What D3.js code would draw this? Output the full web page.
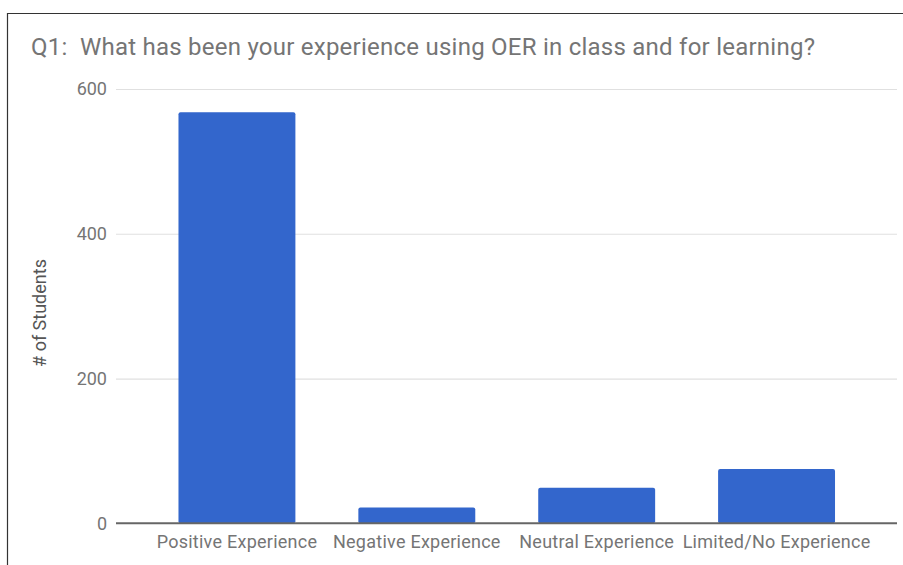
<!DOCTYPE html>
<html>
<head>
<meta charset="utf-8">
<script src="https://cdn.jsdelivr.net/npm/d3@7"></script>
<style>
  html, body { margin: 0; padding: 0; background: #fff; }
  svg { display: block; font-family: Roboto, "Noto Sans", sans-serif; }
</style>
</head>
<body>
<div class="chart"></div>
<script>
const categories = ['Positive Experience', 'Negative Experience', 'Neutral Experience', 'Limited/No Experience']
const students = [568, 22, 49, 75]
const yTicks = [0, 200, 400, 600]
const title = 'Q1:  What has been your experience using OER in class and for learning?'
const yLabel = '# of Students'

const width = 903
const height = 565

const svg = d3.select('.chart').append('svg')
  .attr('width', width)
  .attr('height', height)

// frame around the chart (right and bottom edges fall outside the crop)
svg.append('path')
  .attr('d', 'M7.5,' + height + 'V13.5H' + width)
  .attr('fill', 'none')
  .attr('stroke', '#333')
  .attr('stroke-width', 1.2)

svg.append('text')
  .attr('x', 31)
  .attr('y', 55)
  .attr('fill', '#757575')
  .attr('font-size', 24)
  .attr('textLength', 784)
  .style('white-space', 'pre')
  .text(title)

const y = d3.scaleLinear()
  .domain([0, 600])
  .range([523.3, 89])

const x = d3.scaleBand()
  .domain(categories)
  .range([147, 866.5])
  .paddingInner(0.35)
  .paddingOuter(0.175)

// gridlines + tick labels
const grid = svg.append('g')
  .attr('transform', 'translate(116,0)')
  .call(d3.axisLeft(y).tickValues(yTicks).tickSize(-781).tickPadding(9))
grid.select('.domain').remove()
grid.selectAll('.tick line')
  .attr('stroke', d => d === 0 ? 'none' : '#e0e0e0')
  .attr('stroke-width', 1.2)
grid.selectAll('.tick text')
  .attr('fill', '#757575')
  .attr('font-size', 18)
  .attr('font-family', 'Roboto, sans-serif')

svg.append('g')
  .selectAll('rect')
  .data(students)
  .join('rect')
    .attr('x', (d, i) => x(categories[i]))
    .attr('y', d => y(d))
    .attr('width', x.bandwidth())
    .attr('height', d => y(0) - y(d))
    .attr('rx', 2)
    .attr('fill', '#3366cc')

// baseline
svg.append('line')
  .attr('x1', 116)
  .attr('x2', 897)
  .attr('y1', y(0))
  .attr('y2', y(0))
  .attr('stroke', '#666')
  .attr('stroke-width', 2)

const xAxis = svg.append('g')
  .attr('transform', 'translate(0,' + y(0) + ')')
  .call(d3.axisBottom(x).tickSize(0).tickPadding(12))
xAxis.select('.domain').remove()
xAxis.selectAll('.tick text')
  .attr('fill', '#757575')
  .attr('font-size', 18)
  .attr('letter-spacing', 0.25)
  .attr('font-family', 'Roboto, sans-serif')

svg.append('text')
  .attr('transform', 'translate(46,313) rotate(-90)')
  .attr('text-anchor', 'middle')
  .attr('fill', '#555')
  .attr('font-size', 18)
  .text(yLabel)
</script>
</body>
</html>
